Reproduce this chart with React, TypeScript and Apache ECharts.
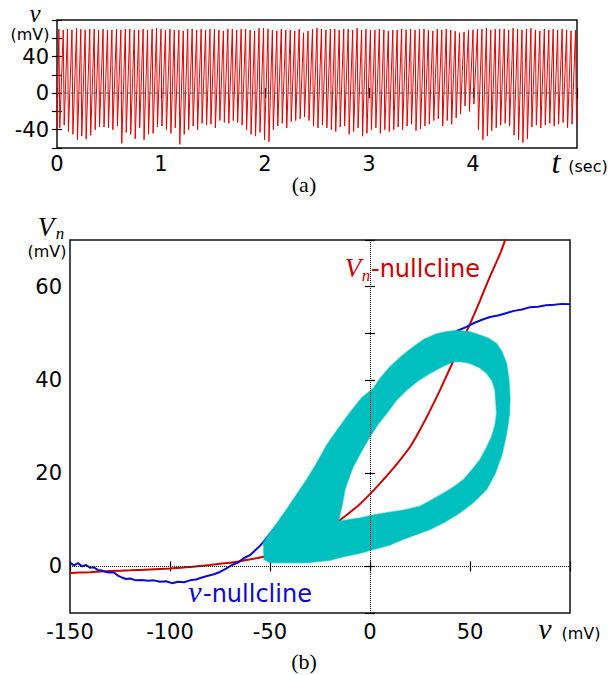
import React, { useEffect, useRef } from 'react';
import * as echarts from 'echarts';

// ---------- Panel (a): spike train ----------
const spikeTimes = [
  0.018, 0.060, 0.101, 0.144, 0.188, 0.229, 0.271, 0.315, 0.358, 0.400,
  0.443, 0.486, 0.528, 0.572, 0.614, 0.657, 0.700, 0.743, 0.786, 0.828,
  0.871, 0.915, 0.957, 1.000, 1.043, 1.086, 1.128, 1.172, 1.214, 1.257,
  1.300, 1.343, 1.386, 1.429, 1.471, 1.514, 1.557, 1.600, 1.643, 1.686,
  1.728, 1.771, 1.814, 1.857, 1.900, 1.943, 1.986, 2.029, 2.071, 2.114,
  2.157, 2.200, 2.243, 2.286, 2.329, 2.371, 2.414, 2.457, 2.500, 2.543,
  2.586, 2.629, 2.671, 2.714, 2.757, 2.800, 2.843, 2.886, 2.929, 2.971,
  3.014, 3.057, 3.100, 3.143, 3.186, 3.229, 3.271, 3.314, 3.357, 3.400,
  3.443, 3.486, 3.529, 3.571, 3.614, 3.657, 3.700, 3.743, 3.786, 3.829,
  3.871, 3.914, 3.957, 4.000, 4.043, 4.086, 4.129, 4.171, 4.214, 4.257,
  4.300, 4.343, 4.386, 4.429, 4.471, 4.514, 4.557, 4.600, 4.643, 4.686,
  4.729, 4.771, 4.814, 4.857, 4.900, 4.943, 4.986,
];
const spikePeaks = [
  70, 69, 70, 69, 71, 70, 69, 70, 70, 69,
  70, 69, 69, 70, 69, 70, 70, 69, 69, 70,
  69, 70, 71, 70, 69, 70, 69, 69, 68, 70,
  70, 69, 70, 69, 70, 70, 69, 68, 70, 70,
  69, 70, 70, 69, 68, 71, 71, 70, 69, 68,
  70, 69, 69, 68, 70, 66, 68, 70, 71, 70,
  69, 70, 70, 69, 70, 70, 69, 71, 69, 70,
  69, 69, 70, 69, 68, 69, 69, 70, 69, 70,
  69, 70, 70, 69, 68, 70, 69, 70, 69, 68,
  66, 67, 69, 69, 70, 70, 71, 69, 70, 70,
  70, 69, 71, 70, 69, 70, 71, 69, 68, 70,
  69, 70, 69, 70, 69, 68, 69,
];
const spikeTroughs = [
  -38, -35, -42, -45, -51, -47, -50, -46, -40, -37,
  -37, -38, -40, -36, -55, -43, -45, -50, -38, -51,
  -45, -44, -37, -36, -40, -44, -38, -56, -45, -40,
  -36, -40, -33, -35, -34, -38, -30, -32, -33, -30,
  -32, -35, -40, -45, -47, -43, -51, -53, -40, -36,
  -33, -38, -31, -30, -28, -26, -30, -36, -38, -35,
  -38, -40, -42, -37, -36, -45, -42, -38, -47, -44,
  -40, -38, -44, -40, -42, -40, -37, -40, -36, -34,
  -41, -39, -36, -34, -30, -28, -36, -30, -34, -27,
  -23, -14, -20, -12, -40, -51, -47, -41, -38, -35,
  -33, -36, -46, -51, -54, -50, -37, -35, -38, -35,
  -33, -36, -34, -32, -38, -34, -31,
];
const traceStart = [0, -40];
const topYLabels = [-40, 0, 40];
const topXLabels = [0, 1, 2, 3, 4];

// ---------- Panel (b): nullclines ----------
const redV = [-150, -140, -130, -120, -110, -100, -90, -80, -70, -65, -60, -55, -50, -40, -30, -20, -16.7, -10, -5, 0, 5, 10, 15, 20, 25, 30, 35, 40, 45, 50, 55, 60, 65, 68];
const redVn = [-1.4, -1.25, -1.0, -0.85, -0.65, -0.45, -0.15, 0.3, 0.8, 1.1, 1.5, 1.9, 2.4, 3.6, 5.2, 7.5, 9.3, 11.6, 13.4, 15.5, 17.8, 20.2, 22.8, 25.6, 29.3, 33.4, 37.8, 42.5, 47.2, 52, 57, 62.2, 67, 70.5];

const blueV = [
  -150, -148, -146, -144, -142, -140, -138, -136, -134, -132,
  -130, -128, -126, -124, -122, -120, -117, -114, -111, -108,
  -105, -102, -99, -96, -93, -90, -87, -84, -81, -78,
  -75, -72, -69, -66, -63, -60, -57, -55, -53,
  -45, -35, -25, -15, -5, 5, 15, 25, 35, 41,
  44, 48, 52, 56, 60, 64, 68, 72, 76, 80, 84, 88, 92, 96, 100,
];
const blueVn = [
  0.8, 0.2, 0.7, 0.0, 0.3, -0.3, -0.2, -0.8, -0.9, -1.2,
  -1.3, -1.3, -2.0, -2.4, -2.7, -2.6, -3.0, -2.9, -3.1, -3.0,
  -3.3, -3.2, -3.6, -3.3, -3.4, -3.0, -2.8, -2.4, -2.0, -1.7,
  -1.2, -0.5, 0.3, 0.8, 1.8, 2.4, 3.6, 4.4, 5.4,
  9.6, 16, 22, 26, 31, 36, 40.5, 44.5, 48, 49.8,
  50.6, 51.3, 52.2, 52.9, 53.5, 53.8, 54.3, 54.8, 55.1, 55.6, 55.7, 56.0, 56.1, 56.3, 56.2,
];

// ---------- Panel (b): trajectory band (outer and inner edge) ----------
const bandOuterV = [-53, -50, -40, -31.7, -20, -15, -5, 1.7, 10, 16.7, 23, 30, 37, 45, 52, 58.3, 62.5, 66, 68.3, 69.7, 70, 69.5, 68.3, 66, 63.3, 59, 55, 50, 43.3, 38, 33.3, 27, 21.7, 16, 10, 5, 1.7, -4, -10, -16, -21.7, -27, -31.7, -37, -41.7, -46, -50, -53.3];
const bandOuterVn = [1.5, 0.8, 0.8, 0.8, 1.3, 1.9, 2.8, 3.6, 4.6, 5.8, 6.8, 7.9, 9.4, 11.5, 13.8, 16.5, 19.8, 24, 28.5, 32.5, 36, 40, 43.5, 46, 47.8, 49, 49.6, 50.3, 50.6, 50.3, 49.9, 48.7, 47.1, 45.2, 42.8, 40.3, 38.2, 36.2, 33, 29.5, 26, 21.9, 18.6, 15.2, 12.2, 9.6, 7.2, 5.1];
const bandInnerV = [-15.8, -14, -12.5, -10.5, -8.3, -4.5, 0, 4, 8.3, 13, 18.3, 24, 30, 36, 41.7, 46, 50, 54.5, 58.3, 61, 62.5, 63.3, 62.5, 60.8, 58, 55, 51, 46.7, 42, 36.7, 31, 25, 17, 8.3, 1.5, -5, -11, -15.8];
const bandInnerVn = [9.7, 13, 16.5, 19, 21.4, 24.5, 27.8, 30.5, 32.8, 35.5, 37.8, 39.8, 41.4, 42.8, 43.9, 43.9, 43.5, 42.7, 41.4, 39.8, 37.8, 32.8, 30.3, 27.8, 25.3, 22.9, 20.7, 18.6, 17.1, 15.7, 14.3, 12.9, 12.1, 11.5, 11, 10.4, 10, 9.7];
const bottomYLabels = [0, 20, 40, 60];

const SANS = '"DejaVu Sans", sans-serif';
const SERIF = '"Liberation Serif", "DejaVu Serif", serif';

function txt(x: number, y: number, text: string, font: string, fill = '#000', align = 'center', lineHeight?: number) {
  const style: any = { text, font, fill, align, textAlign: align, verticalAlign: 'middle', textVerticalAlign: 'middle' };
  if (lineHeight) style.lineHeight = lineHeight;
  return { type: 'text', x, y, silent: true, style };
}

export default function App() {
  const ref = useRef<HTMLDivElement>(null);
  useEffect(() => {
    document.body.style.margin = '0';
    const chart = echarts.init(ref.current!, null, { renderer: 'svg' });

    const trace: number[][] = [traceStart];
    const n = Math.min(spikeTimes.length, spikePeaks.length, spikeTroughs.length);
    for (let i = 0; i < n; i++) {
      trace.push([spikeTimes[i], spikePeaks[i]]);
      trace.push([spikeTimes[i] + 0.009, spikeTroughs[i]]);
    }
    const red = redV.map((v, i) => [v, redVn[i]]);
    const blue = blueV.map((v, i) => [v, blueVn[i]]);
    const outer = bandOuterV.map((v, i) => [v, bandOuterVn[i]]);
    const inner = bandInnerV.map((v, i) => [v, bandInnerVn[i]]);

    const tick = { show: true, inside: true, length: 5, lineStyle: { color: '#000', width: 1.2 } };
    const noLine = { show: false };
    const lab = (fmt: (v: number) => string, margin: number) => ({
      formatter: fmt,
      fontSize: 21,
      fontFamily: SANS,
      color: '#000',
      margin,
    });

    const option: any = {
      animation: false,
      backgroundColor: '#fff',
      grid: [
        { left: 57, top: 20, width: 520, height: 128, show: true, borderColor: '#111', borderWidth: 1.5, backgroundColor: 'transparent' },
        { left: 70, top: 240, width: 500, height: 373, show: true, borderColor: '#111', borderWidth: 1.5, backgroundColor: 'transparent' },
      ],
      xAxis: [
        { gridIndex: 0, type: 'value', min: 0, max: 5, interval: 1, position: 'bottom', axisLine: noLine, axisTick: tick, splitLine: noLine,
          axisLabel: lab((v) => (topXLabels.includes(v) ? String(v) : ''), 5) },
        { gridIndex: 0, type: 'value', min: 0, max: 5, interval: 1, position: 'top', axisLine: noLine, axisTick: tick, splitLine: noLine, axisLabel: { show: false } },
        { gridIndex: 1, type: 'value', min: -150, max: 100, interval: 50, position: 'bottom', axisLine: noLine, axisTick: tick, splitLine: noLine,
          axisLabel: lab((v) => (v === 100 ? '' : String(v)), 8) },
        { gridIndex: 1, type: 'value', min: -150, max: 100, interval: 50, position: 'top', axisLine: noLine, axisTick: tick, splitLine: noLine, axisLabel: { show: false } },
      ],
      yAxis: [
        { gridIndex: 0, type: 'value', min: -60, max: 80, interval: 20, position: 'left', axisLine: noLine, axisTick: tick, splitLine: noLine,
          axisLabel: lab((v) => (topYLabels.includes(v) ? String(v) : ''), 8) },
        { gridIndex: 0, type: 'value', min: -60, max: 80, interval: 20, position: 'right', axisLine: noLine, axisTick: tick, splitLine: noLine, axisLabel: { show: false } },
        { gridIndex: 1, type: 'value', min: -10, max: 70, interval: 10, position: 'left', axisLine: noLine, axisTick: tick, splitLine: noLine,
          axisLabel: lab((v) => (bottomYLabels.includes(v) ? String(v) : ''), 8) },
        { gridIndex: 1, type: 'value', min: -10, max: 70, interval: 10, position: 'right', axisLine: noLine, axisTick: tick, splitLine: noLine, axisLabel: { show: false } },
      ],
      series: [
        {
          type: 'line', xAxisIndex: 0, yAxisIndex: 0, data: trace, showSymbol: false, z: 2,
          lineStyle: { color: '#e60000', width: 1 },
          markLine: {
            silent: true, symbol: ['none', 'none'], label: { show: false },
            lineStyle: { color: 'rgba(90,90,90,0.75)', type: [4, 3], width: 1.5 },
            data: [{ yAxis: 0 }],
          },
        },
        {
          type: 'line', xAxisIndex: 2, yAxisIndex: 2, data: red, showSymbol: false, smooth: 0.2, z: 2,
          lineStyle: { color: '#cc0000', width: 2 },
          markLine: {
            silent: true, symbol: ['none', 'none'], label: { show: false },
            lineStyle: { color: '#000', type: 'dotted', width: 1 },
            data: [{ xAxis: 0 }, { yAxis: 0 }],
          },
        },
        {
          type: 'line', xAxisIndex: 2, yAxisIndex: 2, data: blue, showSymbol: false, z: 2,
          lineStyle: { color: '#0a0ad2', width: 2 },
        },
        {
          type: 'custom', xAxisIndex: 2, yAxisIndex: 2, z: 3, data: [[0, 0]],
          renderItem: (params: any, api: any) => {
            const pts: number[][] = [];
            outer.forEach((p) => pts.push(api.coord(p)));
            pts.push(api.coord(outer[0]));
            inner.forEach((p) => pts.push(api.coord(p)));
            pts.push(api.coord(outer[0]));
            return {
              type: 'polygon',
              shape: { points: pts },
              style: { fill: '#00bfbf', stroke: 'rgba(0,191,191,0.5)', lineWidth: 1.5, lineJoin: 'round' },
            };
          },
        },
      ],
      graphic: [
        txt(35, 13.5, 'v', `italic 25px ${SERIF}`),
        txt(30, 34, '(mV)', `16px ${SANS}`),
        txt(556, 162, 't', `italic 32px ${SERIF}`),
        txt(588, 166, '(sec)', `16px ${SANS}`),
        txt(304, 184, '(a)', `22px ${SERIF}`),
        txt(46, 227, 'V', `italic 27px ${SERIF}`, '#000', 'center', 22),
        txt(60, 233, 'n', `italic 17px ${SERIF}`, '#000', 'center', 12),
        txt(47, 251, '(mV)', `16px ${SANS}`, '#000', 'center', 16),
        txt(353, 268, 'V', `italic 27px ${SERIF}`, '#cc0000'),
        txt(366, 275, 'n', `italic 17px ${SERIF}`, '#cc0000'),
        txt(371, 269, '-nullcline', `24px ${SANS}`, '#cc0000', 'left'),
        txt(195, 591, 'v', `italic 30px ${SERIF}`, '#0a0ad2'),
        txt(203, 594, '-nullcline', `24px ${SANS}`, '#0a0ad2', 'left'),
        txt(545, 628, 'v', `italic 30px ${SERIF}`),
        txt(581, 633, '(mV)', `16px ${SANS}`),
        txt(304, 661, '(b)', `22px ${SERIF}`),
      ],
    };
    chart.setOption(option);
    return () => chart.dispose();
  }, []);
  return <div ref={ref} style={{ position: 'absolute', left: 0, top: 0, width: 609, height: 675, background: '#fff' }} />;
}
